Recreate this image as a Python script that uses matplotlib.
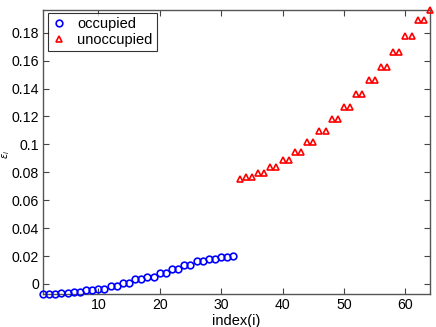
import matplotlib
matplotlib.use("Agg")
import matplotlib.pyplot as plt
import numpy as np

plt.rcParams['font.family'] = ['Liberation Sans', 'DejaVu Sans']

occ_index = list(range(1, 33))
occ_values = [-0.0072, -0.0070, -0.0069, -0.0062, -0.0062, -0.0057, -0.0057, -0.0045,
              -0.0045, -0.0033, -0.0033, -0.0014, -0.0014, 0.0005, 0.0005, 0.0034,
              0.0034, 0.0052, 0.0052, 0.0081, 0.0081, 0.0108, 0.0108, 0.0136,
              0.0136, 0.0163, 0.0163, 0.0181, 0.0181, 0.0196, 0.0196, 0.0201]
unocc_index = list(range(33, 65))
unocc_values = [0.0755, 0.0765, 0.0765, 0.0798, 0.0798, 0.0841, 0.0841, 0.0889,
                0.0889, 0.0948, 0.0948, 0.1020, 0.1020, 0.1097, 0.1097, 0.1180,
                0.1180, 0.1267, 0.1267, 0.1360, 0.1360, 0.1458, 0.1458, 0.1558,
                0.1558, 0.1665, 0.1665, 0.1778, 0.1778, 0.1888, 0.1888, 0.1963]
xticks = [10, 20, 30, 40, 50, 60]
yticks = [0, 0.02, 0.04, 0.06, 0.08, 0.1, 0.12, 0.14, 0.16, 0.18]
ytick_labels = ['0', '0.02', '0.04', '0.06', '0.08', '0.1', '0.12', '0.14', '0.16', '0.18']

fig = plt.figure(figsize=(4.36, 3.27), dpi=100)
ax = fig.add_axes([43/436, 1 - 294/327, (430 - 43)/436, (294 - 10)/327])

ax.plot(occ_index, occ_values, 'o', linestyle='none', color='#0000ff', mfc='none',
        ms=4.8, mew=1.2, label='occupied', clip_on=False, zorder=3)
ax.plot(unocc_index, unocc_values, '^', linestyle='none', color='#ff0000', mfc='none',
        ms=5.0, mew=1.2, label='unoccupied', clip_on=False, zorder=3)

ax.set_xlim(1, 64)
ax.set_ylim(min(occ_values), max(unocc_values))
ax.set_xticks(xticks)
ax.set_yticks(yticks)
ax.set_yticklabels(ytick_labels)
ax.tick_params(direction='in', top=True, right=True, length=4, width=0.8,
               labelsize=10.2, color='#444444', pad=3)
for s in ax.spines.values():
    s.set_color('#555555')
    s.set_linewidth(1.0)

ax.set_xlabel('index(i)', fontsize=10.5, labelpad=1)
ax.set_ylabel(r'$\varepsilon_i$', fontsize=7)
ax.yaxis.set_label_coords(-31/387, 0.49)

leg = ax.legend(loc='upper left', bbox_to_anchor=(0.013, 0.99), borderaxespad=0,
                fontsize=10.5, frameon=True, fancybox=False, handlelength=0.9,
                handletextpad=0.8, borderpad=0.3, labelspacing=0.1)
leg.get_frame().set_edgecolor('black')
leg.get_frame().set_linewidth(0.8)

fig.savefig('out.png', dpi=100)
